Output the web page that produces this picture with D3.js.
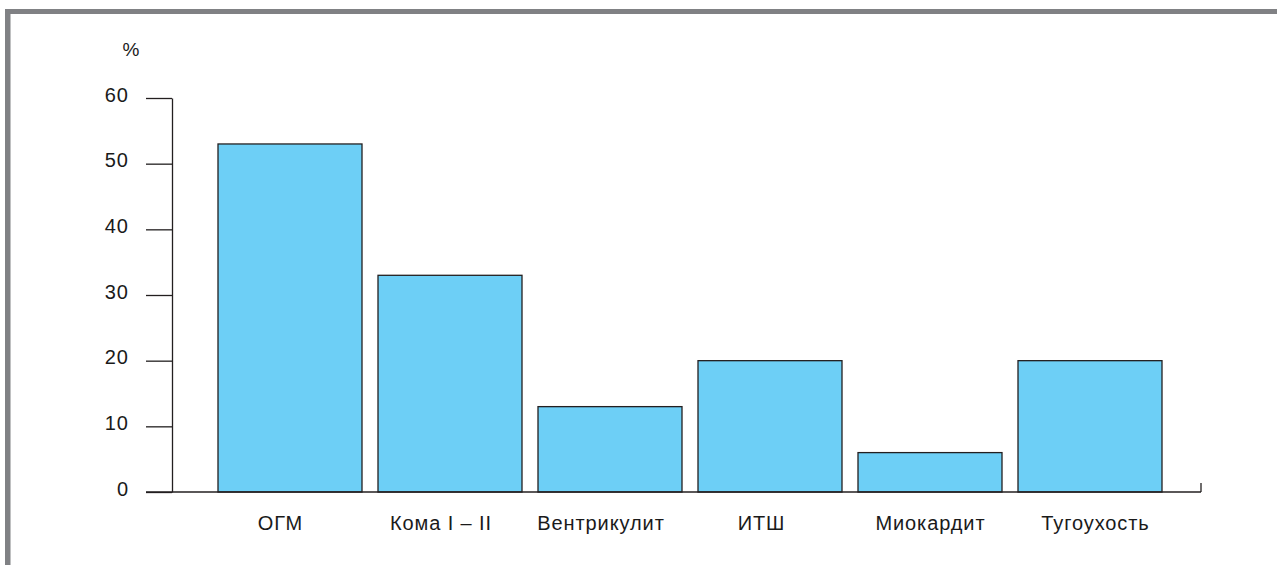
<!DOCTYPE html>
<html><head><meta charset="utf-8">
<script src="https://cdn.jsdelivr.net/npm/d3@7"></script>
<style>body{margin:0;background:#fff;}svg{display:block;}</style>
</head><body>
<svg id="c" width="1277" height="565"></svg>
<script>
const categories = ["ОГМ", "Кома I – II", "Вентрикулит", "ИТШ", "Миокардит", "Тугоухость"];
const values = [53, 33, 13, 20, 6, 20];
const yTicks = [0, 10, 20, 30, 40, 50, 60];

// layout: horizontal nudge of each category label relative to its bar centre
const labelDx = [-9.5, -9, -9, -8.5, 0.5, 5.5];

const svg = d3.select("#c");
const font = "'Liberation Sans', Arial, Helvetica, sans-serif";

// frame
svg.append("rect").attr("x", 5).attr("y", 9).attr("width", 1272).attr("height", 5).attr("fill", "#808184");
svg.append("rect").attr("x", 5).attr("y", 9).attr("width", 5.5).attr("height", 556).attr("fill", "#808184");

const y = d3.scaleLinear().domain([0, 60]).range([492, 98]);
const x = d3.scaleBand().domain(categories).range([210, 1170]).paddingInner(0.1).paddingOuter(0.05);

// bars
svg.selectAll("rect.bar").data(values).enter().append("rect")
  .attr("class", "bar")
  .attr("x", (d, i) => x(categories[i]))
  .attr("y", d => y(d))
  .attr("width", x.bandwidth())
  .attr("height", d => y(0) - y(d))
  .attr("fill", "#6dcff6")
  .attr("stroke", "#231f20")
  .attr("stroke-width", 1.3);

// y axis
const yAxis = svg.append("g").attr("transform", "translate(172,0)")
  .call(d3.axisLeft(y).tickValues(yTicks).tickSize(26).tickPadding(17).tickSizeOuter(0));
yAxis.select(".domain").attr("stroke", "#231f20").attr("stroke-width", 1.3);
yAxis.selectAll(".tick line").attr("stroke", "#231f20").attr("stroke-width", 1.3);
yAxis.selectAll(".tick text").attr("font-family", font).attr("font-size", 20)
  .attr("letter-spacing", 1).attr("dy", "0.16em").attr("fill", "#1a1a1a");

// x axis
const xAxisScale = d3.scaleLinear().domain([0, 1]).range([146, 1201]);
svg.append("line").attr("x1", xAxisScale(0)).attr("x2", xAxisScale(1))
  .attr("y1", y(0)).attr("y2", y(0)).attr("stroke", "#231f20").attr("stroke-width", 1.3);
svg.append("line").attr("x1", xAxisScale(1)).attr("x2", xAxisScale(1))
  .attr("y1", y(0) - 9).attr("y2", y(0)).attr("stroke", "#231f20").attr("stroke-width", 1.3);

// category labels
svg.selectAll("text.cat").data(categories).enter().append("text")
  .attr("class", "cat")
  .attr("x", (d, i) => x(d) + x.bandwidth() / 2 + labelDx[i])
  .attr("y", 530)
  .attr("text-anchor", "middle")
  .attr("font-family", font).attr("font-size", 20)
  .attr("letter-spacing", 0.9)
  .attr("fill", "#1a1a1a")
  .text(d => d);

// unit label
svg.append("text").attr("x", 131).attr("y", 56).attr("text-anchor", "middle")
  .attr("font-family", font).attr("font-size", 19).attr("fill", "#1a1a1a").text("%");
</script>
</body></html>
